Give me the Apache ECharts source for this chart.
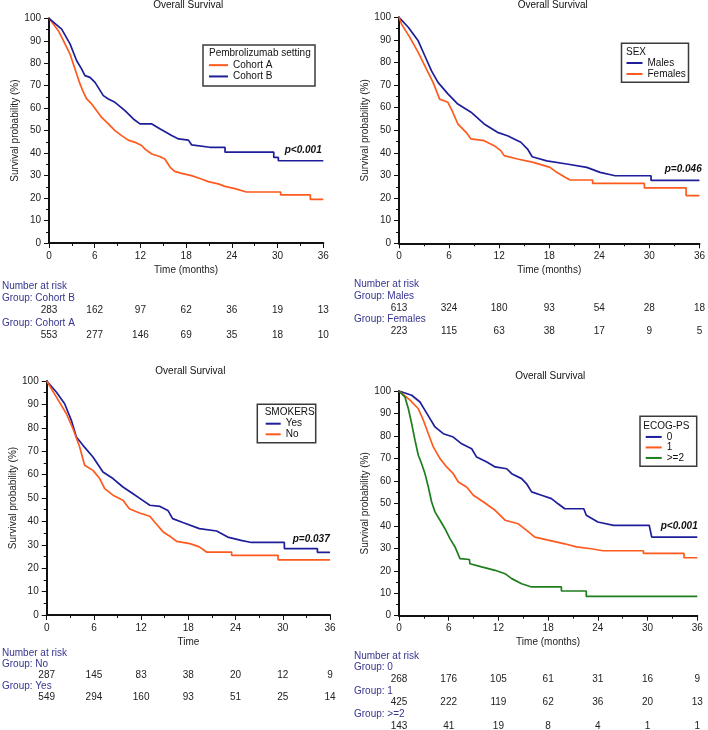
<!DOCTYPE html>
<html>
<head>
<meta charset="utf-8">
<script src="https://cdn.jsdelivr.net/npm/echarts@6/dist/echarts.min.js"></script>
<style>
html,body{margin:0;padding:0;background:#fff;}
#chart{width:708px;height:730px;}
</style>
</head>
<body>
<div id="chart"></div>
<script>
// ---------------- DATA ----------------
const timeTicks = [0, 6, 12, 18, 24, 30, 36];

// Panel 1: Pembrolizumab setting
const p1CohortA_t = [0,1.23,2.1,2.76,3.19,3.63,4.07,4.51,4.94,5.6,6.26,6.91,7.79,8.66,9.54,10.4,11.3,12.2,12.6,13.5,14.6,15.2,15.9,16.5,17.4,18.7,20.0,20.9,22.2,23.1,24.4,25.9,30.4,30.4,34.3,34.3,36];
const p1CohortA_s = [100,94.5,88.6,84.1,79.7,75.2,70.8,67.1,64.1,61.9,58.9,55.9,53.0,50.0,47.8,45.8,44.8,43.3,41.8,39.6,38.4,37.4,33.7,31.9,31.0,30.0,28.5,27.3,26.3,25.2,24.2,22.7,22.7,21.4,21.4,19.4,19.4];
const p1CohortB_t = [0,1.66,2.76,3.63,4.29,4.72,5.38,6.04,7.13,7.79,8.66,9.97,11.07,11.94,13.5,14.6,16.1,17.0,18.3,18.7,21.1,23.1,23.1,29.5,29.5,30.1,30.1,36];
const p1CohortB_s = [100,95.2,88.6,81.1,77.4,74.5,73.7,71.5,65.6,64.1,62.6,58.9,55.2,53.0,53.0,50.7,47.8,46.3,45.8,43.7,42.6,42.6,40.4,40.4,38.1,38.1,36.6,36.6];
const p1RiskCohortB = [283,162,97,62,36,19,13];
const p1RiskCohortA = [553,277,146,69,35,18,10];

// Panel 2: SEX
const p2Males_t = [0,1.11,2.3,3.09,3.88,4.67,5.86,7.05,8.63,10.2,11.8,13.0,14.6,15.4,15.96,17.7,20.1,22.5,24.1,25.9,30.2,30.2,36];
const p2Males_s = [100,95.6,89.6,83.0,76.4,71.2,66.1,61.6,58.0,52.8,49.1,47.6,44.7,41.7,38.3,36.5,35.1,33.6,31.4,29.9,29.9,27.8,27.8];
const p2Females_t = [0,0.3,1.3,2.3,3.29,4.08,4.87,5.86,6.45,7.05,8.04,8.63,10.2,11.4,12.2,12.6,14.2,16.1,18.1,18.9,19.9,20.5,23.2,23.2,29.4,29.4,34.4,34.4,36];
const p2Females_s = [100,97,91.1,84.5,77.1,71.2,63.8,62.4,58.0,52.8,49.1,46.2,45.4,43.2,41.0,38.8,37.3,35.8,33.6,31.4,29.2,28.0,28.0,26.5,26.5,24.5,24.5,21.1,21.1];
const p2RiskMales = [613,324,180,93,54,28,18];
const p2RiskFemales = [223,115,63,38,17,9,5];

// Panel 3: SMOKERS
const p3Yes_t = [0,1.22,2.28,3.13,3.77,4.61,5.88,7.15,8.42,9.69,10.97,12.2,13.1,14.4,15.4,16.0,17.3,19.4,21.6,23.0,24.7,26.0,30.2,30.2,34.4,34.4,36];
const p3Yes_s = [100,95.3,90.3,83.2,76.1,72.5,67.5,61.1,58.3,54.7,51.8,49.0,46.9,46.4,44.7,41.2,39.5,36.9,35.9,33.3,31.9,31.0,31.0,28.4,28.4,26.8,26.8];
const p3No_t = [0,1.22,2.5,3.34,4.19,4.82,5.88,6.73,7.37,8.42,9.69,10.5,11.8,13.1,13.9,14.8,15.8,16.5,18.2,19.4,20.3,23.5,23.5,29.4,29.4,36];
const p3No_s = [100,93.2,86.0,79.6,71.8,64.0,61.8,58.3,54.0,51.2,49.0,45.4,43.6,42.2,39.0,35.5,33.3,31.5,30.5,29.1,26.9,26.9,25.5,25.5,23.6,23.6];
const p3RiskNo = [287,145,83,38,20,12,9];
const p3RiskYes = [549,294,160,93,51,25,14];

// Panel 4: ECOG-PS
const p4Ecog0_t = [0,1.53,2.53,3.14,3.74,4.34,5.35,6.55,7.56,8.77,9.37,10.6,11.6,13.0,13.6,14.8,15.4,16.0,17.2,18.4,19.2,20.0,22.3,22.6,24.0,25.9,30.2,30.5,36];
const p4Ecog0_s = [100,98.1,95.1,91.4,87.7,84.0,81.0,79.5,76.5,74.3,70.6,68.4,66.2,65.4,63.2,61.0,58.7,55.1,53.6,52.1,49.8,47.6,47.6,44.7,41.7,40.2,40.2,35.0,35.0];
const p4Ecog1_t = [0,1.33,2.33,2.94,3.54,4.14,4.95,5.75,6.55,7.16,8.16,8.97,10.2,11.6,12.8,14.4,15.4,16.4,18.0,20.0,21.4,23.2,24.6,29.5,29.5,34.4,34.4,36];
const p4Ecog1_s = [100,95.9,92.1,87.0,81.0,75.1,69.9,66.2,63.2,59.5,57.3,53.6,50.6,46.9,42.5,40.9,38.0,35.0,33.6,32.0,30.6,29.8,28.9,28.9,27.7,27.7,25.8,25.8];
const p4Ecog2_t = [0,0.72,1.13,1.53,1.93,2.33,2.73,3.14,3.54,3.94,4.34,4.95,5.55,6.15,6.76,7.36,8.5,8.56,9.97,11.6,12.8,13.6,14.8,16.0,19.6,19.6,22.6,22.6,36];
const p4Ecog2_s = [100,97.3,92.1,85.4,78.1,71.4,67.6,63.2,57.3,50.6,46.2,42.5,38.7,34.3,30.6,25.4,25.0,23.1,21.7,20.2,18.7,16.5,14.2,12.8,12.8,11.0,11.0,8.6,8.6];
const p4Risk0 = [268,176,105,61,31,16,9];
const p4Risk1 = [425,222,119,62,36,20,13];
const p4Risk2 = [143,41,19,8,4,1,1];

// ---------------- STYLE / LAYOUT ----------------
const FONT = '"Liberation Sans", Arial, Helvetica, sans-serif';
const ORANGE = '#FF5A1E';
const BLUE = '#1E1E9A';
const GREEN = '#1E7E1E';
const RISK_COLOR = '#35358F';

const panels = [
  { grid:{left:49, top:18.3, width:274.3, height:224.7}, xName:'Time (months)', titleY:5,
    curves:[{name:'Cohort A', t:p1CohortA_t, s:p1CohortA_s, color:ORANGE},
            {name:'Cohort B', t:p1CohortB_t, s:p1CohortB_s, color:BLUE}],
    legendTitle:'Pembrolizumab setting', box:[203,45,112,41], lt:[209,53.3], lg:{left:209, top:59.5, w:19, lh:11.3},
    p:{text:'p<0.001', x:321.7, y:150},
    riskX:2, riskRows:[{label:'Group: Cohort B', vals:p1RiskCohortB},{label:'Group: Cohort A', vals:p1RiskCohortA}],
    riskY:[286,298,310,323,335] },
  { grid:{left:399, top:17.3, width:303.3, height:226}, xName:'Time (months)', titleY:5,
    curves:[{name:'Males', t:p2Males_t, s:p2Males_s, color:BLUE},
            {name:'Females', t:p2Females_t, s:p2Females_s, color:ORANGE}],
    legendTitle:'SEX', box:[621.5,43.3,67,39], lt:[626,52.3], lg:{left:626.5, top:57.5, w:16, lh:11},
    p:{text:'p=0.046', x:701.7, y:169},
    riskX:354, riskRows:[{label:'Group: Males', vals:p2RiskMales},{label:'Group: Females', vals:p2RiskFemales}],
    riskY:[284,296,308,319,331] },
  { grid:{left:46.7, top:381, width:283.3, height:234}, xName:'Time', titleY:371,
    curves:[{name:'Yes', t:p3Yes_t, s:p3Yes_s, color:BLUE},
            {name:'No', t:p3No_t, s:p3No_s, color:ORANGE}],
    legendTitle:'SMOKERS', box:[257.3,404.3,58.4,38.4], lt:[264.7,412], lg:{left:265.7, top:418.4, w:15, lh:10.6},
    p:{text:'p=0.037', x:329.7, y:539.7},
    riskX:2, riskRows:[{label:'Group: No', vals:p3RiskNo},{label:'Group: Yes', vals:p3RiskYes}],
    riskY:[653,664,675,686,697] },
  { grid:{left:399, top:391, width:298.3, height:224.7}, xName:'Time (months)', titleY:376,
    curves:[{name:'0', t:p4Ecog0_t, s:p4Ecog0_s, color:BLUE},
            {name:'1', t:p4Ecog1_t, s:p4Ecog1_s, color:ORANGE},
            {name:'>=2', t:p4Ecog2_t, s:p4Ecog2_s, color:GREEN}],
    legendTitle:'ECOG-PS', box:[640,416.3,56.7,50], lt:[643.3,426], lg:{left:645.7, top:431.7, w:16, lh:10.5},
    p:{text:'p<0.001', x:697.7, y:526.3},
    riskX:354, riskRows:[{label:'Group: 0', vals:p4Risk0},{label:'Group: 1', vals:p4Risk1},{label:'Group: >=2', vals:p4Risk2}],
    riskY:[656,667,679,691,702,714,726] }
];

const chart = echarts.init(document.getElementById('chart'), null, {renderer:'canvas'});

const grids = [], xAxes = [], yAxes = [], series = [], legends = [];
panels.forEach((P, i) => {
  grids.push(Object.assign({containLabel:false}, P.grid));
  xAxes.push({
    type:'value', gridIndex:i, min:0, max:36, interval:6,
    name:P.xName, nameLocation:'middle', nameGap:22,
    nameTextStyle:{fontFamily:FONT, fontSize:10, color:'#222'},
    axisLine:{show:true, onZero:false, lineStyle:{color:'#111', width:2}},
    axisTick:{show:true, length:5, lineStyle:{color:'#111', width:1}},
    minorTick:{show:true, splitNumber:2, length:3, lineStyle:{color:'#111', width:1}},
    axisLabel:{fontFamily:FONT, fontSize:10, color:'#222', margin:8},
    splitLine:{show:false}
  });
  yAxes.push({
    type:'value', gridIndex:i, min:0, max:100, interval:10,
    name:'Survival probability (%)', nameLocation:'middle', nameGap:26, nameRotate:90,
    nameTextStyle:{fontFamily:FONT, fontSize:10, color:'#222'},
    axisLine:{show:true, onZero:false, lineStyle:{color:'#111', width:2}},
    axisTick:{show:true, length:5, lineStyle:{color:'#111', width:1}},
    minorTick:{show:true, splitNumber:2, length:3, lineStyle:{color:'#111', width:1}},
    axisLabel:{fontFamily:FONT, fontSize:10, color:'#222', margin:8},
    splitLine:{show:false}
  });
  P.curves.forEach(c => {
    series.push({
      type:'line', name:c.name, xAxisIndex:i, yAxisIndex:i,
      data:c.t.map((t, k) => [t, c.s[k]]),
      showSymbol:false, symbol:'none', smooth:false,
      lineStyle:{color:c.color, width:1.7}, itemStyle:{color:c.color},
      animation:false, z:3
    });
  });
  legends.push({
    orient:'vertical', left:P.lg.left, top:P.lg.top, padding:0, itemGap:0,
    itemWidth:P.lg.w, itemHeight:2, icon:'rect', itemTextGap:5,
    data:P.curves.map(c => c.name), selectedMode:false, z:10,
    textStyle:{fontFamily:FONT, fontSize:10, color:'#111', lineHeight:P.lg.lh}
  });
});

chart.setOption({
  animation:false,
  backgroundColor:'#fff',
  grid:grids, xAxis:xAxes, yAxis:yAxes, series:series, legend:legends
});

// Graphic overlays: titles, legend boxes, p-values, number-at-risk tables
const g = [];
const txt = (text, x, y, opts) => Object.assign({
  type:'text', x:x, y:y, z:20,
  style:Object.assign({text:text, font:'10px ' + FONT, fill:'#111', textAlign:'left', textVerticalAlign:'middle'}, (opts||{}))
});
panels.forEach((P, i) => {
  const cx = P.grid.left + P.grid.width / 2;
  g.push(txt('Overall Survival', cx + 2, P.titleY, {textAlign:'center'}));
  g.push({type:'rect', z:5, shape:{x:P.box[0], y:P.box[1], width:P.box[2], height:P.box[3]},
          style:{fill:'#fff', stroke:'#3a3a3a', lineWidth:1.5}});
  g.push(txt(P.legendTitle, P.lt[0], P.lt[1]));
  g.push(txt(P.p.text, P.p.x, P.p.y, {textAlign:'right', font:'italic bold 10px ' + FONT}));
  g.push(txt('Number at risk', P.riskX, P.riskY[0], {fill:RISK_COLOR}));
  P.riskRows.forEach((row, r) => {
    g.push(txt(row.label, P.riskX, P.riskY[1 + r * 2], {fill:RISK_COLOR}));
    row.vals.forEach((v, k) => {
      const px = chart.convertToPixel({gridIndex:i}, [timeTicks[k], 0]);
      g.push(txt(String(v), px[0], P.riskY[2 + r * 2], {textAlign:'center', fill:'#222'}));
    });
  });
});
chart.setOption({graphic:g});
</script>
</body>
</html>
